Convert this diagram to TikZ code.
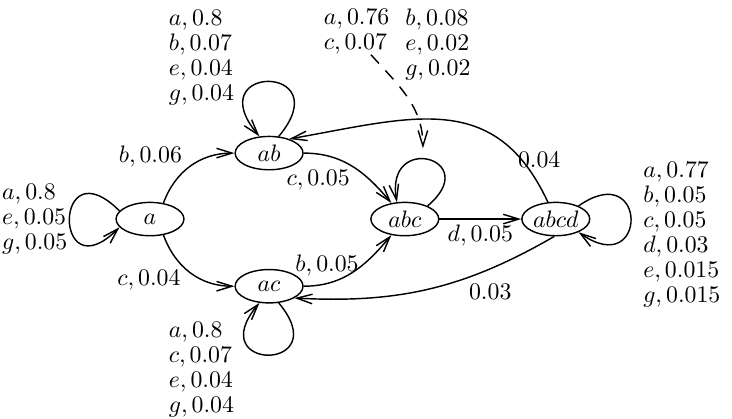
\documentclass[tikz,border=0pt]{standalone}
\usetikzlibrary{positioning,arrows.meta,shapes.geometric}
\tikzset{
  st/.style={draw,ellipse,semithick,minimum width=28.5pt,minimum height=14pt,inner sep=0pt},
  flow/.style={-{Straight Barb[length=6.5pt,width=4pt]},semithick},
  dashflow/.style={-{Straight Barb[length=6.5pt,width=4pt]},semithick,dash pattern=on 5pt off 4pt},
  lbl/.style={align=left,inner sep=0pt,font=\fontsize{10}{10.5}\selectfont},
  elbl/.style={inner sep=1pt,font=\fontsize{10}{10.5}\selectfont}
}

\begin{document}
\begin{tikzpicture}[on grid]
  \useasboundingbox (0,0) rectangle (307.4pt,175.6pt);
  \node[st] (a) at (63pt,83.6pt) {$a$};
  \node[st,above right=27.7pt and 50pt of a] (ab) {$ab$};
  \node[st,below right=28.2pt and 50pt of a] (ac) {$ac$};
  \node[st,right=107pt of a] (abc) {$abc$};
  \node[st,right=63.4pt of abc] (abcd) {$abcd$};

  % self loops and their labels
  \node[lbl,anchor=east] (aloop) at ([xshift=-20pt]a.west) {$a,0.8$\\$e,0.05$\\$g,0.05$};
  \node[lbl,anchor=east] (abloop) at ([yshift=40pt]ab.west) {$a,0.8$\\$b,0.07$\\$e,0.04$\\$g,0.04$};
  \node[lbl,anchor=east] (acloop) at ([yshift=-35.2pt]ac.west) {$a,0.8$\\$c,0.07$\\$e,0.04$\\$g,0.04$};
  \node[lbl,anchor=west] (abcdloop) at ([xshift=22pt,yshift=-6.5pt]abcd.east)
    {$a,0.77$\\$b,0.05$\\$c,0.05$\\$d,0.03$\\$e,0.015$\\$g,0.015$};
  \draw[flow] (a.165) .. controls +(135:39.5pt) and +(225:39.5pt) .. (a.195);
  \draw[flow] (ab.60) .. controls +(50:40pt) and +(130:40pt) .. (ab.120);
  \draw[flow] (ac.-60) .. controls +(-50:38pt) and +(-130:38pt) .. (ac.-120);
  \draw[flow] (abc.30) .. controls +(40:31pt) and +(100:30pt) .. (abc.115);
  \draw[flow] (abcd.30) .. controls +(35:35.7pt) and +(-35:35.7pt) .. (abcd.-30);

  % initial distribution
  \node[lbl,anchor=north east] (initL) at ([xshift=-6.3pt,yshift=81pt]abc.north) {$a,0.76$\\$c,0.07$};
  \node[lbl,anchor=north west] (initR) at ([yshift=81pt]abc.north) {$b,0.08$\\$e,0.02$\\$g,0.02$};
  \coordinate (init) at ([xshift=7.6pt,yshift=22.4pt]abc.north);
  \draw[dashflow] (initL.-58) to[out=-48,in=90] (init);

  % transitions
  \draw[flow] (a.50) to[out=70,in=180] node[elbl,pos=0.42,above left] {$b,0.06$} (ab.west);
  \draw[flow] (a.-50) to[out=-70,in=180] node[elbl,pos=0.4,below left] {$c,0.04$} (ac.west);
  \draw[flow] (ab.east) to[out=0,in=130] node[elbl,pos=0.5,below left] {$c,0.05$} (abc.130);
  \draw[flow] (ac.east) to[out=0,in=-130] node[elbl,pos=0.55,above left,xshift=2pt,yshift=-4pt] {$b,0.05$} (abc.-130);
  \draw[flow] (abc) -- node[elbl,below,inner sep=2pt] {$d,0.05$} (abcd);
  \draw[flow] (abcd) to[out=115,in=10,looseness=1.2] node[elbl,pos=0.15,right,inner sep=0pt,xshift=-2pt] {$0.04$} (ab.35);
  \draw[flow] (abcd.-95) to[out=-150,in=-3] node[elbl,pos=0.25,below,yshift=-5pt] {$0.03$} (ac.-25);
\end{tikzpicture}
\end{document}
